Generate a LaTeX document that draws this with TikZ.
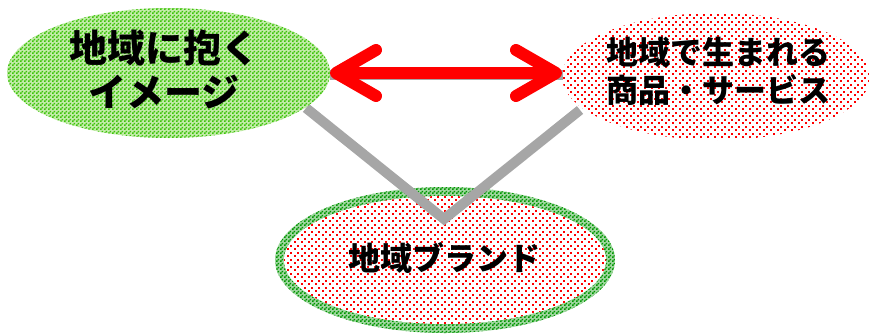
\documentclass[tikz,border=0pt]{standalone}
\usepackage{fontspec}
\newfontfamily\jp{Noto Sans CJK JP}
\usetikzlibrary{shapes.geometric,patterns,arrows.meta}
\definecolor{lgreen}{RGB}{60,195,10}
\definecolor{lgreenbg}{RGB}{195,236,170}
\definecolor{dgreen}{RGB}{0,150,0}
\definecolor{dgreenbg}{RGB}{160,215,160}
\definecolor{lgray}{RGB}{166,166,166}
\pgfdeclarepatternformonly{finechecker}{\pgfpointorigin}{\pgfqpoint{4pt}{4pt}}{\pgfqpoint{4pt}{4pt}}{%
  \pgfpathrectangle{\pgfpointorigin}{\pgfqpoint{2pt}{2pt}}%
  \pgfpathrectangle{\pgfqpoint{2pt}{2pt}}{\pgfqpoint{2pt}{2pt}}%
  \pgfusepath{fill}}
\pgfdeclarepatternformonly{sqdots}{\pgfpointorigin}{\pgfqpoint{7pt}{7pt}}{\pgfqpoint{7pt}{7pt}}{%
  \pgfpathrectangle{\pgfpointorigin}{\pgfqpoint{2pt}{2pt}}%
  \pgfpathrectangle{\pgfqpoint{3.5pt}{3.5pt}}{\pgfqpoint{2pt}{2pt}}%
  \pgfusepath{fill}}
\tikzset{
  oval/.style={ellipse, inner sep=0pt, outer sep=0pt},
  greenfill/.style={preaction={fill=lgreenbg}, pattern=finechecker, pattern color=lgreen},
  dotfill/.style={preaction={fill=white}, pattern=sqdots, pattern color=red},
  borderfill/.style={preaction={fill=dgreenbg}, pattern=finechecker, pattern color=dgreen},
  label/.style={text=black, align=center, inner sep=0pt},
  grayline/.style={draw=lgray, line width=10pt, line cap=butt, line join=miter},
  redarrow/.style={draw=red, line width=12pt, line cap=round,
    {Straight Barb[length=40pt, width=46pt, round]}-{Straight Barb[length=40pt, width=46pt, round]}}
}
\begin{document}
\begin{tikzpicture}[x=1pt, y=-1pt]
\useasboundingbox (0,0) rectangle (869,333);
% bottom ellipse
\node[oval, borderfill, minimum width=340pt, minimum height=146pt] (Bo) at (445,260) {};
\node[oval, dotfill, minimum width=322pt, minimum height=128pt] (B) at (445,260) {};
% gray connectors
\coordinate (gL) at (306,108);
\coordinate (gT) at (444,219);
\coordinate (gR) at (580,110);
\draw[grayline] (gL) -- (gT) -- (gR);
% top ellipses
\node[oval, greenfill, minimum width=323pt, minimum height=130pt] (L) at (168.5,73) {};
\node[oval, dotfill, minimum width=308pt, minimum height=127pt] (R) at (716,76.5) {};
\coordinate (aL) at (330,75);
\coordinate (aR) at (563,75);
\draw[grayline] (aL) -- (aR);
\coordinate (rL) at (330,73);
\coordinate (rR) at (562,73);
\draw[redarrow] (rL) -- (rR);
% texts
\node[label, font=\jp\bfseries\fontsize{38}{44}\selectfont] (Lt) at (164,69) {地域に抱く\\イメージ};
\node[label, font=\jp\bfseries\fontsize{32}{38}\selectfont] (Rt) at (718,71) {地域で生まれる\\商品・サービス};
\node[label, font=\jp\bfseries\fontsize{32}{38}\selectfont] (Bt) at (444,258) {地域ブランド};
\end{tikzpicture}
\end{document}
